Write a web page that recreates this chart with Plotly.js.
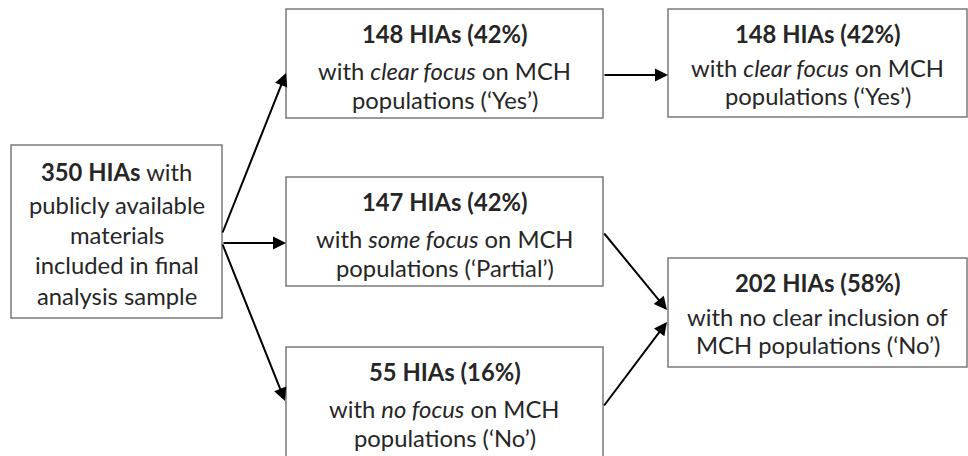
<!DOCTYPE html>
<html>
<head>
<meta charset="utf-8">
<script src="https://cdn.plot.ly/plotly-3.0.1.min.js"></script>
<style>html,body{margin:0;padding:0;background:#fff;}#chart{width:968px;height:456px;}</style>
</head>
<body>
<div id="chart"></div>
<script>
// ---- data ----
const sourceLines = ['<b>350 HIAs</b> with', 'publicly available', 'materials', 'included in final', 'analysis sample'];
const groupCounts = [148, 147, 55];
const groupPercents = [42, 42, 16];
const groupFocus = ['clear focus', 'some focus', 'no focus'];
const groupCodes = ['Yes', 'Partial', 'No'];
const finalCounts = [148, 202];
const finalPercents = [42, 58];
const finalLine2 = ['with <i>clear focus</i> on MCH', 'with no clear inclusion of'];
const finalLine3 = ['populations (\u2018Yes\u2019)', 'MCH populations (\u2018No\u2019)'];

// ---- layout geometry (pixels) ----
const W = 968, H = 456;
const boxA = {x0: 11, x1: 222, y0: 145, y1: 318};
const boxB = [{x0: 286, x1: 603, y0: 9, y1: 118}, {x0: 286, x1: 603, y0: 177, y1: 286}, {x0: 286, x1: 603, y0: 347, y1: 470}];
const boxC = [{x0: 668, x1: 967, y0: 9, y1: 117}, {x0: 668, x1: 967, y0: 258, y1: 367}];
const srcOffsets = [27, 60, 90, 120, 151];
const bOffsets = [25, 62, 91];
const cOffsets = [25, 59, 87];

const FONT = 'Lato, "Liberation Sans", sans-serif';
const TXT = '#262626';
const FS = 23.8;

const shapes = [];
const annotations = [];
function box(b) {
  shapes.push({type: 'rect', xref: 'x', yref: 'y', x0: b.x0, x1: b.x1, y0: b.y0, y1: b.y1,
    line: {color: '#7a7a7a', width: 1.5}, fillcolor: 'rgba(0,0,0,0)'});
}
function text(x, y, t) {
  annotations.push({xref: 'x', yref: 'y', x: x, y: y, text: t, showarrow: false,
    xanchor: 'center', yanchor: 'middle', font: {family: FONT, size: FS, color: TXT}});
}
function arrow(x0, y0, x1, y1) {
  annotations.push({xref: 'x', yref: 'y', axref: 'x', ayref: 'y', x: x1, y: y1, ax: x0, ay: y0,
    text: '', showarrow: true, arrowhead: 2, arrowsize: 1.3, arrowwidth: 2, arrowcolor: '#000',
    standoff: 0, startstandoff: 0});
}

box(boxA);
const cxA = (boxA.x0 + boxA.x1) / 2;
sourceLines.forEach((l, i) => text(cxA, boxA.y0 + srcOffsets[i], l));

boxB.forEach((b, i) => {
  box(b);
  const cx = (b.x0 + b.x1) / 2;
  text(cx, b.y0 + bOffsets[0], '<b>' + groupCounts[i] + ' HIAs (' + groupPercents[i] + '%)</b>');
  text(cx, b.y0 + bOffsets[1], 'with <i>' + groupFocus[i] + '</i> on MCH');
  text(cx, b.y0 + bOffsets[2], 'populations (\u2018' + groupCodes[i] + '\u2019)');
});

boxC.forEach((b, i) => {
  box(b);
  const cx = (b.x0 + b.x1) / 2;
  text(cx, b.y0 + cOffsets[0], '<b>' + finalCounts[i] + ' HIAs (' + finalPercents[i] + '%)</b>');
  text(cx, b.y0 + cOffsets[1], finalLine2[i]);
  text(cx, b.y0 + cOffsets[2], finalLine3[i]);
});

// connectors
arrow(222, 234, 286, 73);
arrow(222, 243, 286, 243);
arrow(222, 243, 285, 401);
arrow(603, 75, 668, 75);
arrow(603, 232, 667, 310);
arrow(603, 407, 667, 322);

Plotly.newPlot('chart', [], {
  width: W, height: H,
  margin: {l: 0, r: 0, t: 0, b: 0},
  paper_bgcolor: '#fff', plot_bgcolor: '#fff',
  xaxis: {range: [0, W], visible: false, fixedrange: true},
  yaxis: {range: [H, 0], visible: false, fixedrange: true},
  shapes: shapes,
  annotations: annotations,
  showlegend: false
}, {displayModeBar: false, staticPlot: true});
</script>
</body>
</html>
